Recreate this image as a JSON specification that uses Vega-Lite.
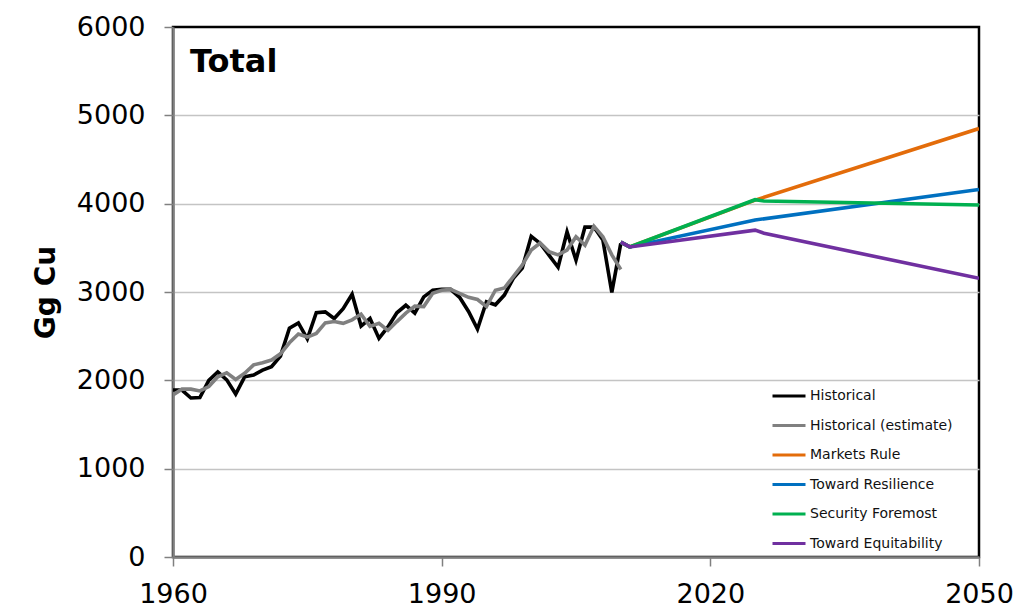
{
  "$schema": "https://vega.github.io/schema/vega-lite/v6.json",
  "width": 806,
  "height": 530,
  "autosize": {"type": "none"},
  "padding": {"left": 173, "top": 27, "right": 41, "bottom": 53},
  "background": "white",
  "config": {
    "view": {"stroke": "black", "strokeWidth": 2.5}
  },
  "layer": [
    {
      "data": {
        "values": [
          {"series": "Historical", "year": 1960, "value": 1890},
          {"series": "Historical", "year": 1961, "value": 1890},
          {"series": "Historical", "year": 1962, "value": 1800},
          {"series": "Historical", "year": 1963, "value": 1805},
          {"series": "Historical", "year": 1964, "value": 2000},
          {"series": "Historical", "year": 1965, "value": 2095},
          {"series": "Historical", "year": 1966, "value": 2005},
          {"series": "Historical", "year": 1967, "value": 1845},
          {"series": "Historical", "year": 1968, "value": 2040},
          {"series": "Historical", "year": 1969, "value": 2060},
          {"series": "Historical", "year": 1970, "value": 2115},
          {"series": "Historical", "year": 1971, "value": 2155},
          {"series": "Historical", "year": 1972, "value": 2275},
          {"series": "Historical", "year": 1973, "value": 2590},
          {"series": "Historical", "year": 1974, "value": 2650},
          {"series": "Historical", "year": 1975, "value": 2470},
          {"series": "Historical", "year": 1976, "value": 2765},
          {"series": "Historical", "year": 1977, "value": 2775},
          {"series": "Historical", "year": 1978, "value": 2700},
          {"series": "Historical", "year": 1979, "value": 2810},
          {"series": "Historical", "year": 1980, "value": 2975},
          {"series": "Historical", "year": 1981, "value": 2615},
          {"series": "Historical", "year": 1982, "value": 2700},
          {"series": "Historical", "year": 1983, "value": 2475},
          {"series": "Historical", "year": 1984, "value": 2605},
          {"series": "Historical", "year": 1985, "value": 2765},
          {"series": "Historical", "year": 1986, "value": 2850},
          {"series": "Historical", "year": 1987, "value": 2760},
          {"series": "Historical", "year": 1988, "value": 2945},
          {"series": "Historical", "year": 1989, "value": 3020},
          {"series": "Historical", "year": 1990, "value": 3030},
          {"series": "Historical", "year": 1991, "value": 3030},
          {"series": "Historical", "year": 1992, "value": 2940},
          {"series": "Historical", "year": 1993, "value": 2780},
          {"series": "Historical", "year": 1994, "value": 2580},
          {"series": "Historical", "year": 1995, "value": 2890},
          {"series": "Historical", "year": 1996, "value": 2855},
          {"series": "Historical", "year": 1997, "value": 2965},
          {"series": "Historical", "year": 1998, "value": 3155},
          {"series": "Historical", "year": 1999, "value": 3270},
          {"series": "Historical", "year": 2000, "value": 3630},
          {"series": "Historical", "year": 2001, "value": 3550},
          {"series": "Historical", "year": 2002, "value": 3415},
          {"series": "Historical", "year": 2003, "value": 3280},
          {"series": "Historical", "year": 2004, "value": 3680},
          {"series": "Historical", "year": 2005, "value": 3360},
          {"series": "Historical", "year": 2006, "value": 3735},
          {"series": "Historical", "year": 2007, "value": 3735},
          {"series": "Historical", "year": 2008, "value": 3590},
          {"series": "Historical", "year": 2009, "value": 2995},
          {"series": "Historical", "year": 2010, "value": 3550},

          {"series": "Historical (estimate)", "year": 1960, "value": 1835},
          {"series": "Historical (estimate)", "year": 1961, "value": 1900},
          {"series": "Historical (estimate)", "year": 1962, "value": 1900},
          {"series": "Historical (estimate)", "year": 1963, "value": 1880},
          {"series": "Historical (estimate)", "year": 1964, "value": 1930},
          {"series": "Historical (estimate)", "year": 1965, "value": 2040},
          {"series": "Historical (estimate)", "year": 1966, "value": 2085},
          {"series": "Historical (estimate)", "year": 1967, "value": 2010},
          {"series": "Historical (estimate)", "year": 1968, "value": 2080},
          {"series": "Historical (estimate)", "year": 1969, "value": 2175},
          {"series": "Historical (estimate)", "year": 1970, "value": 2200},
          {"series": "Historical (estimate)", "year": 1971, "value": 2230},
          {"series": "Historical (estimate)", "year": 1972, "value": 2300},
          {"series": "Historical (estimate)", "year": 1973, "value": 2425},
          {"series": "Historical (estimate)", "year": 1974, "value": 2525},
          {"series": "Historical (estimate)", "year": 1975, "value": 2490},
          {"series": "Historical (estimate)", "year": 1976, "value": 2530},
          {"series": "Historical (estimate)", "year": 1977, "value": 2650},
          {"series": "Historical (estimate)", "year": 1978, "value": 2665},
          {"series": "Historical (estimate)", "year": 1979, "value": 2645},
          {"series": "Historical (estimate)", "year": 1980, "value": 2685},
          {"series": "Historical (estimate)", "year": 1981, "value": 2750},
          {"series": "Historical (estimate)", "year": 1982, "value": 2610},
          {"series": "Historical (estimate)", "year": 1983, "value": 2645},
          {"series": "Historical (estimate)", "year": 1984, "value": 2565},
          {"series": "Historical (estimate)", "year": 1985, "value": 2665},
          {"series": "Historical (estimate)", "year": 1986, "value": 2760},
          {"series": "Historical (estimate)", "year": 1987, "value": 2840},
          {"series": "Historical (estimate)", "year": 1988, "value": 2835},
          {"series": "Historical (estimate)", "year": 1989, "value": 2985},
          {"series": "Historical (estimate)", "year": 1990, "value": 3020},
          {"series": "Historical (estimate)", "year": 1991, "value": 3030},
          {"series": "Historical (estimate)", "year": 1992, "value": 2985},
          {"series": "Historical (estimate)", "year": 1993, "value": 2940},
          {"series": "Historical (estimate)", "year": 1994, "value": 2915},
          {"series": "Historical (estimate)", "year": 1995, "value": 2835},
          {"series": "Historical (estimate)", "year": 1996, "value": 3020},
          {"series": "Historical (estimate)", "year": 1997, "value": 3045},
          {"series": "Historical (estimate)", "year": 1998, "value": 3175},
          {"series": "Historical (estimate)", "year": 1999, "value": 3305},
          {"series": "Historical (estimate)", "year": 2000, "value": 3475},
          {"series": "Historical (estimate)", "year": 2001, "value": 3555},
          {"series": "Historical (estimate)", "year": 2002, "value": 3455},
          {"series": "Historical (estimate)", "year": 2003, "value": 3420},
          {"series": "Historical (estimate)", "year": 2004, "value": 3475},
          {"series": "Historical (estimate)", "year": 2005, "value": 3625},
          {"series": "Historical (estimate)", "year": 2006, "value": 3530},
          {"series": "Historical (estimate)", "year": 2007, "value": 3745},
          {"series": "Historical (estimate)", "year": 2008, "value": 3625},
          {"series": "Historical (estimate)", "year": 2009, "value": 3420},
          {"series": "Historical (estimate)", "year": 2010, "value": 3255},

          {"series": "Markets Rule", "year": 2010, "value": 3565},
          {"series": "Markets Rule", "year": 2011, "value": 3510},
          {"series": "Markets Rule", "year": 2025, "value": 4040},
          {"series": "Markets Rule", "year": 2050, "value": 4850},

          {"series": "Toward Resilience", "year": 2010, "value": 3565},
          {"series": "Toward Resilience", "year": 2011, "value": 3510},
          {"series": "Toward Resilience", "year": 2025, "value": 3815},
          {"series": "Toward Resilience", "year": 2050, "value": 4160},

          {"series": "Security Foremost", "year": 2010, "value": 3565},
          {"series": "Security Foremost", "year": 2011, "value": 3510},
          {"series": "Security Foremost", "year": 2025, "value": 4045},
          {"series": "Security Foremost", "year": 2026, "value": 4030},
          {"series": "Security Foremost", "year": 2050, "value": 3985},

          {"series": "Toward Equitability", "year": 2010, "value": 3565},
          {"series": "Toward Equitability", "year": 2011, "value": 3510},
          {"series": "Toward Equitability", "year": 2025, "value": 3700},
          {"series": "Toward Equitability", "year": 2026, "value": 3665},
          {"series": "Toward Equitability", "year": 2050, "value": 3155}
        ]
      },
      "mark": {"type": "line", "strokeWidth": 3.6, "strokeJoin": "miter", "clip": true},
      "encoding": {
        "x": {
          "field": "year",
          "type": "quantitative",
          "scale": {"domain": [1960, 2050], "nice": false, "zero": false},
          "axis": {
            "values": [1960, 1990, 2020, 2050],
            "format": "d",
            "title": null,
            "grid": false,
            "domainColor": "#808080",
            "domainWidth": 2.5,
            "tickColor": "#808080",
            "tickWidth": 1.5,
            "tickSize": 9,
            "labelFont": "DejaVu Sans",
            "labelFontSize": 27,
            "labelColor": "black",
            "labelPadding": 15,
            "labelFlush": false
          }
        },
        "y": {
          "field": "value",
          "type": "quantitative",
          "scale": {"domain": [0, 6000], "nice": false},
          "axis": {
            "values": [0, 1000, 2000, 3000, 4000, 5000, 6000],
            "format": "d",
            "title": "Gg Cu",
            "titleFont": "DejaVu Sans",
            "titleFontSize": 28,
            "titleFontWeight": "bold",
            "titleColor": "black",
            "titleAngle": -90,
            "titleAlign": "center",
            "titleBaseline": "alphabetic",
            "titleX": -119,
            "titleY": 265,
            "titleLimit": 400,
            "grid": true,
            "gridColor": "#C4C4C4",
            "gridWidth": 1.5,
            "gridOpacity": {"condition": {"test": "datum.value === 0 || datum.value === 6000", "value": 0}, "value": 1},
            "domainColor": "#808080",
            "domainWidth": 2.5,
            "tickColor": "#808080",
            "tickWidth": 1.5,
            "tickSize": 9,
            "labelFont": "DejaVu Sans",
            "labelFontSize": 27,
            "labelColor": "black",
            "labelPadding": 19
          }
        },
        "color": {
          "field": "series",
          "type": "nominal",
          "sort": null,
          "scale": {
            "domain": ["Historical", "Historical (estimate)", "Markets Rule", "Toward Resilience", "Security Foremost", "Toward Equitability"],
            "range": ["#000000", "#808080", "#E36C0A", "#0070C0", "#00B050", "#7030A0"]
          },
          "legend": {
            "title": null,
            "orient": "none",
            "legendX": 598,
            "legendY": 351,
            "padding": 0,
            "symbolType": "stroke",
            "symbolSize": 1089,
            "symbolStrokeWidth": 3,
            "labelFont": "DejaVu Sans",
            "labelFontSize": 14,
            "labelColor": "#111111",
            "labelOffset": 3,
            "labelLimit": 300,
            "rowPadding": 4.5
          }
        }
      }
    },
    {
      "data": {"values": [{"heading": "Total"}]},
      "mark": {
        "type": "text",
        "align": "left",
        "baseline": "alphabetic",
        "font": "DejaVu Sans",
        "fontSize": 32,
        "fontWeight": "bold",
        "color": "black"
      },
      "encoding": {
        "text": {"field": "heading"},
        "x": {"datum": 1961.9},
        "y": {"datum": 5490}
      }
    }
  ]
}
